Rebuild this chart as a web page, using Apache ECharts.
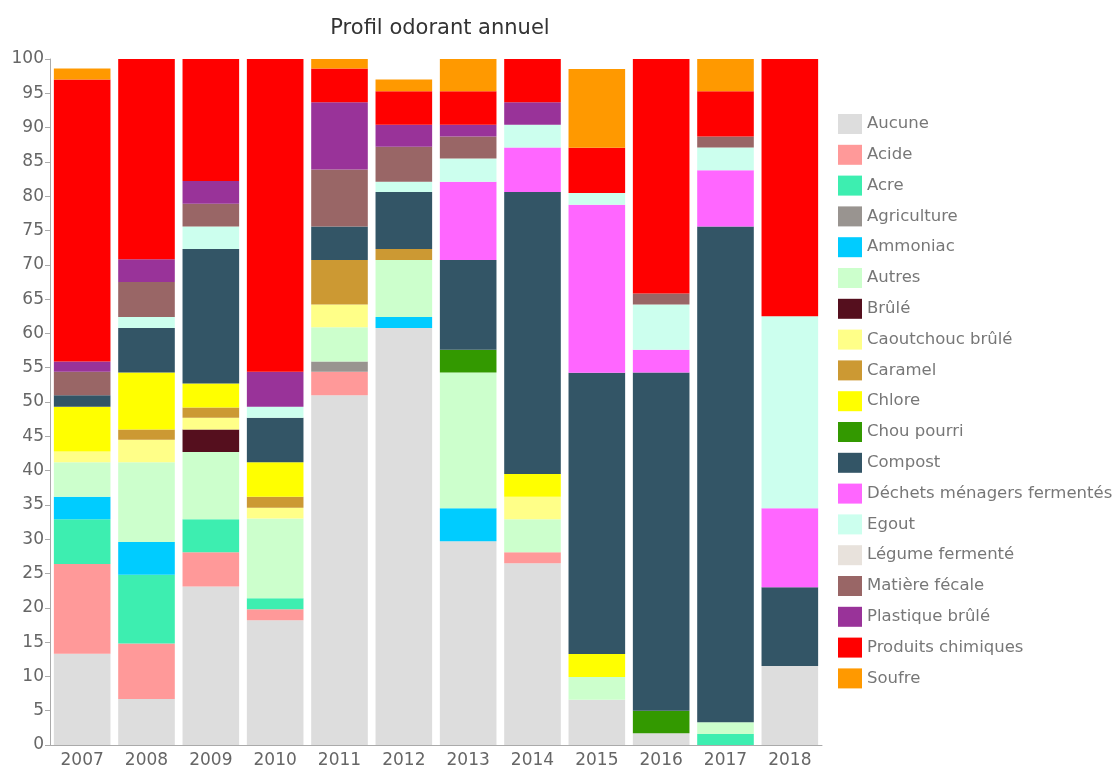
<!DOCTYPE html>
<html>
<head>
<meta charset="utf-8">
<script src="https://cdn.jsdelivr.net/npm/echarts@6/dist/echarts.min.js"></script>
<style>html,body{margin:0;padding:0;background:#fff}#c{width:1116px;height:769px}</style>
</head>
<body>
<div id="c"></div>
<script>
const years = ['2007','2008','2009','2010','2011','2012','2013','2014','2015','2016','2017','2018'];
const seriesNames = ['Aucune','Acide','Acre','Agriculture','Ammoniac','Autres','Brûlé','Caoutchouc brûlé','Caramel','Chlore','Chou pourri','Compost','Déchets ménagers fermentés','Egout','Légume fermenté','Matière fécale','Plastique brûlé','Produits chimiques','Soufre'];
const colors = ['#dddddd','#ff9999','#3deeb0','#999490','#00ccff','#ccffcc','#550f1e','#ffff88','#cc9933','#ffff00','#339900','#335566','#ff66ff','#ccffee','#e8e2dc','#996666','#993399','#ff0000','#ff9900'];

const aucune    = [13.3, 6.7, 23.1, 18.2, 51.0, 60.8, 29.7, 26.5, 6.6, 1.7, 0, 11.5];
const acide     = [13.1, 8.1, 5.0, 1.6, 3.4, 0, 0, 1.6, 0, 0, 0, 0];
const acre      = [6.5, 10.0, 4.8, 1.6, 0, 0, 0, 0, 0, 0, 1.6, 0];
const agriculture = [0, 0, 0, 0, 1.5, 0, 0, 0, 0, 0, 0, 0];
const ammoniac  = [3.3, 4.8, 0, 0, 0, 1.6, 4.8, 0, 0, 0, 0, 0];
const autres    = [5.0, 11.6, 9.8, 11.6, 5.0, 8.3, 19.8, 4.8, 3.3, 0, 1.7, 0];
const brule     = [0, 0, 3.3, 0, 0, 0, 0, 0, 0, 0, 0, 0];
const caoutchouc = [1.6, 3.3, 1.7, 1.6, 3.3, 0, 0, 3.3, 0, 0, 0, 0];
const caramel   = [0, 1.5, 1.5, 1.6, 6.5, 1.6, 0, 0, 0, 0, 0, 0];
const chlore    = [6.5, 8.3, 3.5, 5.0, 0, 0, 0, 3.3, 3.35, 0, 0, 0];
const chou      = [0, 0, 0, 0, 0, 0, 3.3, 0, 0, 3.3, 0, 0];
const compost   = [1.7, 6.5, 19.6, 6.5, 4.9, 8.3, 13.1, 41.1, 41.0, 49.3, 72.3, 11.5];
const dechets   = [0, 0, 0, 0, 0, 0, 11.4, 6.5, 24.5, 3.3, 8.2, 11.5];
const egout     = [0, 1.6, 3.3, 1.6, 0, 1.5, 3.4, 3.3, 1.7, 6.6, 3.3, 28.0];
const legume    = [0, 0, 0, 0, 0, 0, 0, 0, 0, 0, 0, 0];
const fecale    = [3.4, 5.1, 3.3, 0, 8.3, 5.1, 3.2, 0, 0, 1.6, 1.6, 0];
const plastique = [1.5, 3.3, 3.3, 5.1, 9.8, 3.2, 1.7, 3.3, 0, 0, 0, 0];
const chimiques = [41.1, 29.2, 17.8, 45.6, 4.9, 4.9, 4.9, 6.3, 6.6, 34.2, 6.6, 37.5];
const soufre    = [1.6, 0, 0, 0, 1.4, 1.7, 4.7, 0, 11.5, 0, 4.7, 0];

const allData = [aucune, acide, acre, agriculture, ammoniac, autres, brule, caoutchouc, caramel, chlore, chou, compost, dechets, egout, legume, fecale, plastique, chimiques, soufre];

const chart = echarts.init(document.getElementById('c'));
chart.setOption({
  animation: false,
  color: colors,
  textStyle: { fontFamily: 'DejaVu Sans, sans-serif' },
  title: {
    text: 'Profil odorant annuel',
    left: 435, top: 13, textAlign: 'center',
    textStyle: { fontSize: 21, fontWeight: 'normal', color: '#333', fontFamily: 'DejaVu Sans' }
  },
  legend: {
    orient: 'vertical', left: 833, top: 109,
    itemWidth: 24, itemHeight: 20, itemGap: 10.8,
    icon: 'rect',
    textStyle: { fontSize: 16.5, color: '#777', fontFamily: 'DejaVu Sans' },
    data: seriesNames
  },
  grid: { left: 50, right: 294, top: 59, bottom: 23, containLabel: false },
  xAxis: {
    type: 'category', data: years,
    axisLine: { lineStyle: { color: '#aaa' } },
    axisTick: { alignWithLabel: true, lineStyle: { color: '#aaa' } },
    axisLabel: { color: '#666', fontSize: 17, margin: 7, fontFamily: 'DejaVu Sans' }
  },
  yAxis: {
    type: 'value', min: 0, max: 100, interval: 5,
    axisLine: { show: true, lineStyle: { color: '#aaa' } },
    axisTick: { show: true, lineStyle: { color: '#aaa' } },
    splitLine: { show: false },
    axisLabel: { color: '#666', fontSize: 17, margin: 6, fontFamily: 'DejaVu Sans' }
  },
  series: seriesNames.map((n, i) => ({
    name: n, type: 'bar', stack: 'total',
    barCategoryGap: '12%',
    data: allData[i].map(v => v === 0 ? null : v)
  }))
});
</script>
</body>
</html>
